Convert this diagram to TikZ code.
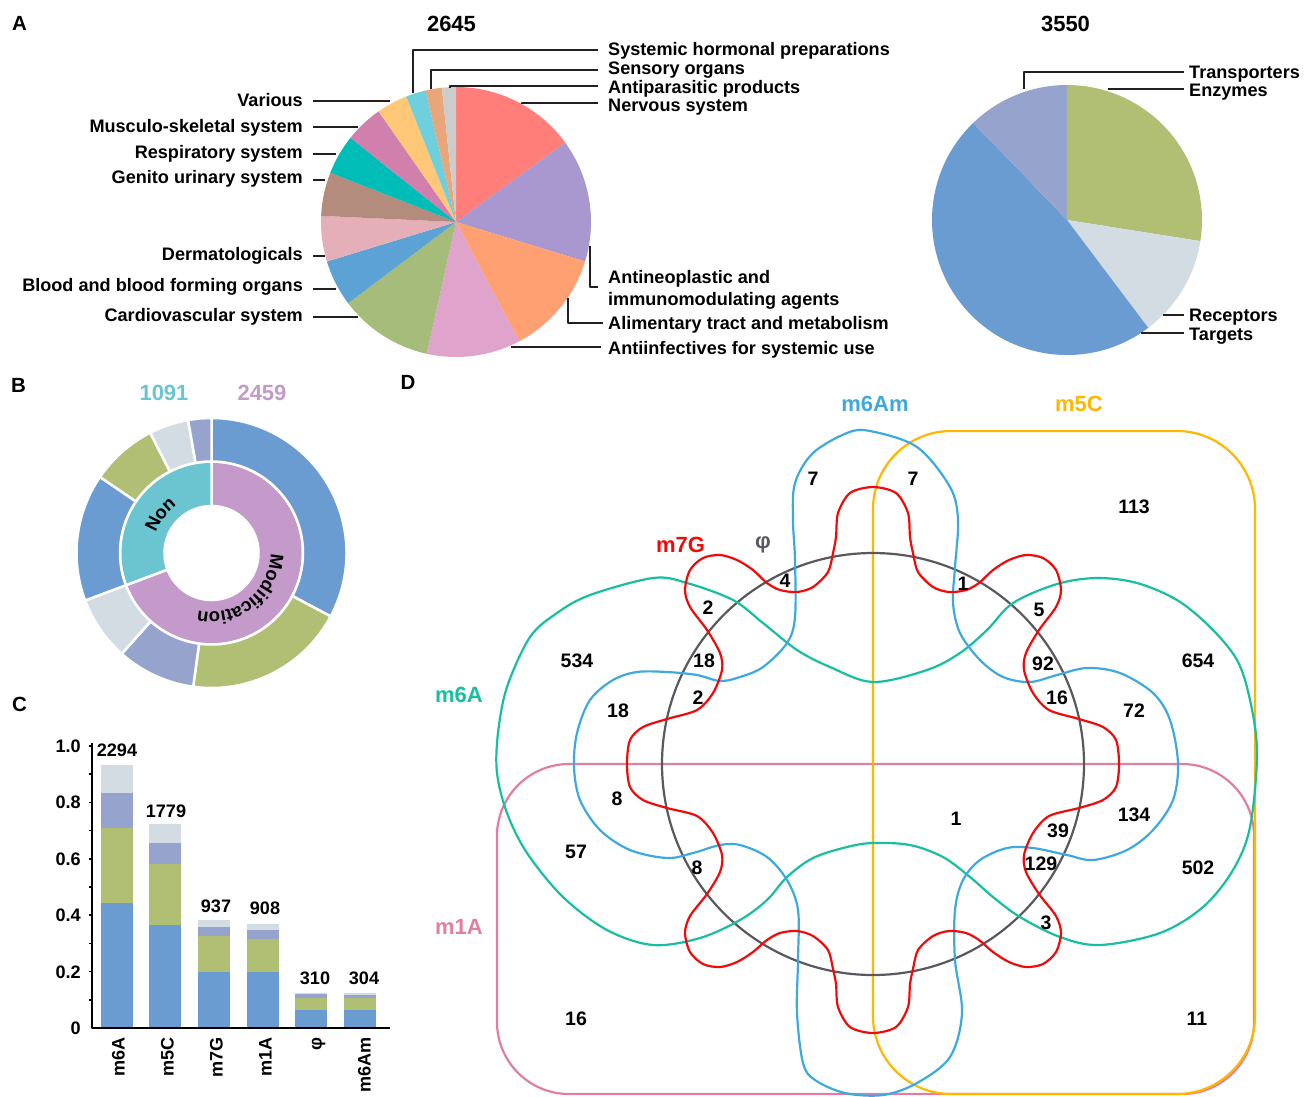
\documentclass[tikz,border=0pt]{standalone}
\usepackage{fontspec}
\setmainfont{Liberation Sans}
\usetikzlibrary{decorations.text}

\definecolor{cNerv}{HTML}{FF7E79}
\definecolor{cAnti}{HTML}{A898CF}
\definecolor{cAlim}{HTML}{FFA072}
\definecolor{cInf}{HTML}{E0A3CC}
\definecolor{cCard}{HTML}{A6BC7B}
\definecolor{cBlood}{HTML}{5DA2D5}
\definecolor{cDerm}{HTML}{E5AFBA}
\definecolor{cGen}{HTML}{B38C7D}
\definecolor{cResp}{HTML}{00BDB8}
\definecolor{cMus}{HTML}{D17FAC}
\definecolor{cVar}{HTML}{FFC778}
\definecolor{cSys}{HTML}{6FCFDC}
\definecolor{cSen}{HTML}{EAA67B}
\definecolor{cApar}{HTML}{CCCCCC}
\definecolor{cTar}{HTML}{6A9BD1}
\definecolor{cEnz}{HTML}{B1BF74}
\definecolor{cTra}{HTML}{96A4CD}
\definecolor{cRec}{HTML}{D2DCE2}
\definecolor{cNon}{HTML}{6BC5D0}
\definecolor{cMod}{HTML}{C39ACA}
\definecolor{cPhi}{HTML}{58585F}
\definecolor{cA}{HTML}{17BF9F}
\definecolor{cAm}{HTML}{3EA9DF}
\definecolor{cC}{HTML}{FFB700}
\definecolor{cG}{HTML}{F20A0A}
\definecolor{cOneA}{HTML}{E07FA0}
\definecolor{cLead}{HTML}{231F20}

\newcommand{\donutfont}{\fontsize{18.5}{18.5}\selectfont\bfseries}

\begin{document}
\begin{tikzpicture}[x=1pt,y=-1pt,line join=round,
  lbl/.style={font=\fontsize{18.1}{20}\selectfont\bfseries,inner sep=0pt,text height=13pt,text depth=0pt},
  num/.style={font=\fontsize{19.5}{21}\selectfont\bfseries,inner sep=0pt,text height=14pt,text depth=0pt},
  big/.style={font=\fontsize{22}{24}\selectfont\bfseries,inner sep=0pt,text height=15.8pt,text depth=0pt},
  panel/.style={font=\fontsize{20.5}{22}\selectfont\bfseries,inner sep=0pt,text height=14.7pt,text depth=0pt},
  lead/.style={draw=cLead,line width=2pt},
  venn/.style={line width=2.2pt},
  ring/.style={draw=white,line width=2.5pt}]
\useasboundingbox (0,0) rectangle (1305,1096);

% panel letters
\node[panel] (pA) at (19.5,23) {A};
\node[panel] (pB) at (18.5,385) {B};
\node[panel] (pC) at (19.5,704) {C};
\node[panel] (pD) at (408,382) {D};

%%% A: ATC classes
\node[big] (tA) at (451.5,23.5) {2645};
\begin{scope}[shift={(456,222)}]
  \foreach \a/\b/\c in {-90/-36/cNerv, -36/17/cAnti, 17/62/cAlim, 62/102.5/cInf,
      102.5/143/cCard, 143/163/cBlood, 163/182.6/cDerm, 182.6/201.4/cGen,
      201.4/218.6/cResp, 218.6/235/cMus, 235/248.4/cVar, 248.4/257/cSys,
      257/264/cSen, 264/270/cApar}
    \fill[\c] (0,0) -- (\a:135) arc[start angle=\a, end angle=\b, radius=135] -- cycle;
\end{scope}

% labels on the left
\foreach \n/\t/\ty/\ly/\ex in {Var/Various/100/101/390, Mus/Musculo-skeletal system/126/127/358,
    Resp/Respiratory system/152/154/336, Gen/Genito urinary system/177/180/325,
    Derm/Dermatologicals/254/256/325, Blood/Blood and blood forming organs/285/289/336,
    Card/Cardiovascular system/315/317/358} {
  \node[lbl,anchor=east] (l\n) at (303,\ty) {\t};
  \coordinate (e\n) at (\ex,\ly);
  \draw[lead] (e\n) -- ([xshift=10pt]e\n -| l\n.east);
}

% labels on the right
\node[lbl,anchor=west] (lSys) at (608,49) {Systemic hormonal preparations};
\node[lbl,anchor=west] (lSen) at (608,68) {Sensory organs};
\node[lbl,anchor=west] (lApar) at (608,87) {Antiparasitic products};
\node[lbl,anchor=west] (lNerv) at (608,105) {Nervous system};
\node[lbl,anchor=west] (lAnti1) at (608,277) {Antineoplastic and};
\node[lbl,anchor=west] (lAnti2) at (608,299) {immunomodulating agents};
\node[lbl,anchor=west] (lAlim) at (608,323) {Alimentary tract and metabolism};
\node[lbl,anchor=west] (lInf) at (608,348) {Antiinfectives for systemic use};
\coordinate (eSys) at (413,93);
\coordinate (eSen) at (431,89);
\coordinate (eApar) at (450,88);
\coordinate (eNerv) at (522,104);
\coordinate (eAnti) at (590,246);
\coordinate (eAlim) at (568,298);
\coordinate (eInf) at (511,347);
\draw[lead] (eSys) |- ([xshift=-10pt,yshift=-1pt]lSys.west);
\draw[lead] (eSen) |- ([xshift=-10pt,yshift=-2pt]lSen.west);
\draw[lead] (eApar) |- ([xshift=-10pt,yshift=1pt]lApar.west);
\draw[lead] (eNerv) |- ([xshift=-10pt,yshift=2pt]lNerv.west);
\draw[lead] (eAnti) |- ([xshift=-10pt,yshift=-10pt]lAnti1.west);
\draw[lead] (eAlim) |- ([xshift=-5pt]lAlim.west);
\draw[lead] (eInf) |- ([xshift=-7pt,yshift=1pt]lInf.west);

%%% A: target classes
\node[big] (tB) at (1065.5,23.5) {3550};
\begin{scope}[shift={(1067,220)}]
  \foreach \a/\b/\c in {-90/9/cEnz, 9/53/cRec, 53/226/cTar, 226/270/cTra}
    \fill[\c] (0,0) -- (\a:135) arc[start angle=\a, end angle=\b, radius=135] -- cycle;
\end{scope}
\node[lbl,anchor=west] (lTra) at (1189,72) {Transporters};
\node[lbl,anchor=west] (lEnz) at (1189,90) {Enzymes};
\node[lbl,anchor=west] (lRec) at (1189,315) {Receptors};
\node[lbl,anchor=west] (lTar) at (1189,334) {Targets};
\coordinate (eTra) at (1024,89);
\coordinate (eEnz) at (1108,89);
\coordinate (eRec) at (1163,315);
\coordinate (eTar) at (1141,333);
\draw[lead] (eTra) |- ([xshift=-5pt]lTra.west);
\draw[lead] (eEnz) -- ([xshift=-5pt]eEnz -| lEnz.west);
\draw[lead] (eRec) -- ([xshift=-5pt]lRec.west);
\draw[lead] (eTar) -- ([xshift=-5pt]eTar -| lTar.west);

%%% B: donut
\node[big,text=cNon] (nNon) at (164,393) {1091};
\node[big,text=cMod] (nMod) at (262,393) {2459};
\begin{scope}[shift={(211.5,553)}]
  \foreach \a/\b/\c in {-90/159.4/cMod, 159.4/270/cNon}
    \draw[ring,fill=\c] (\a:47) arc[start angle=\a, end angle=\b, radius=47]
      -- (\b:91.5) arc[start angle=\b, end angle=\a, radius=91.5] -- cycle;
  \foreach \a/\b/\c in {-90/28/cTar, 28/97.8/cEnz, 97.8/131.7/cTra, 131.7/159.4/cRec,
      159.4/214.3/cTar, 214.3/243/cEnz, 243/260/cRec, 260/270/cTra}
    \draw[ring,fill=\c] (\a:91.5) arc[start angle=\a, end angle=\b, radius=91.5]
      -- (\b:135) arc[start angle=\b, end angle=\a, radius=135] -- cycle;
  \path[decorate,decoration={text along path,text align=center,raise=-2pt,text={|\donutfont|Non}}]
    (177:61) arc[start angle=177, end angle=257, radius=61];
  \path[decorate,decoration={text along path,text align=center,raise=-2pt,text={|\donutfont|Modification}}]
    (-30:61) arc[start angle=-30, end angle=134, radius=61];
\end{scope}

%%% C: stacked bars
\foreach \x/\a/\b/\c/\d in {101/0.444/0.710/0.834/0.933, 149/0.364/0.580/0.657/0.722,
    198/0.200/0.326/0.358/0.382, 247/0.200/0.315/0.347/0.368,
    295/0.063/0.105/0.122/0.125, 344/0.063/0.105/0.118/0.124} {
  \fill[cTar] (\x,1027) rectangle ({\x+32},{1028-282*\a});
  \fill[cEnz] (\x,{1028-282*\a}) rectangle ({\x+32},{1028-282*\b});
  \fill[cTra] (\x,{1028-282*\b}) rectangle ({\x+32},{1028-282*\c});
  \fill[cRec] (\x,{1028-282*\c}) rectangle ({\x+32},{1028-282*\d});
}
\draw[line width=2pt] (92,743) -- (92,1028) -- (390,1028);
\foreach \v in {0.1,0.2,...,1.0}
  \draw[line width=1.5pt] (92,{1028-282*\v}) -- ++(-3,0);
\foreach \v [count=\i] in {0,0.2,0.4,0.6,0.8,1.0}
  \node[lbl,anchor=east] (t\i) at (81,{1028-282*\v}) {\v};
\foreach \x/\y/\t [count=\i] in {117/750/2294, 166/811/1779, 216/906/937, 265/908/908, 315/978/310, 364/978/304}
  \node[lbl] (b\i) at (\x,\y) {\t};
\foreach \x/\t [count=\i] in {118/m6A, 167/m5C, 216/m7G, 265/m1A, 315/φ, 364/m6Am}
  \node[lbl,rotate=90,anchor=east] (x\i) at (\x,1037) {\t};

%%% D: Venn diagram
\draw[venn,draw=cOneA,rounded corners=72pt] (497,900) -- (497,764) -- (1254,764) -- (1254,1094) -- (497,1094) -- cycle;
\draw[venn,draw=cC,rounded corners=78pt] (873,700) -- (873,431) -- (1255,431) -- (1255,1094) -- (873,1094) -- cycle;
\draw[venn,draw=cPhi] (873,764) circle[radius=211];
% m6A
\draw[venn,draw=cA] plot[smooth cycle,tension=0.55] coordinates {
  (653,578) (687,583) (733,600) (763,623) (797,650) (830,667) (873,682) (927,670)
  (960,653) (987,630) (1013,603) (1057,584) (1097,578) (1137,583) (1177,600)
  (1210,627) (1237,660) (1250,700) (1257,753) (1250,827) (1233,870) (1203,907)
  (1160,933) (1100,945) (1060,937) (1020,917) (993,897) (970,877) (943,857)
  (910,845) (873,843) (847,847) (813,858) (787,877) (767,900) (740,920) (700,938)
  (653,945) (607,930) (563,897) (527,853) (507,813) (497,773) (498,733) (507,687)
  (530,637) (557,613) (590,595)};
% m6Am
\draw[venn,draw=cAm] plot[smooth cycle,tension=0.55] coordinates {
  (870,431) (917,447) (950,487) (958,520) (955,567) (953,603) (960,633) (980,660)
  (1003,677) (1030,682) (1057,675) (1087,668) (1120,673) (1153,693) (1170,720)
  (1178,763) (1173,800) (1153,830) (1127,850) (1093,860) (1067,855) (1033,848)
  (1007,848) (980,860) (963,880) (955,910) (955,960) (962,1013) (950,1057)
  (917,1083) (883,1095) (845,1093) (815,1080) (803,1063) (797,1013) (798,960)
  (798,910) (787,880) (767,857) (740,845) (720,845) (693,853) (667,858) (630,850)
  (600,830) (580,800) (574,767) (577,733) (590,700) (613,680) (637,672) (667,672)
  (697,675) (720,681) (740,677) (763,667) (787,643) (795,617) (795,560) (793,520)
  (795,483) (813,453) (847,433)};
% m7G
\draw[venn,draw=cG] plot[smooth cycle,tension=0.5] coordinates {
  (873,487) (850,493) (838,513) (836,537) (833,553) (828,572) (813,587) (797,592)
  (780,590) (767,583) (753,570) (737,560) (720,555) (703,558) (690,570) (685,590)
  (690,607) (707,630) (720,653) (722,670) (713,693) (697,710) (667,719) (643,727)
  (630,740) (627,764)
  (630,787) (643,800) (667,808) (697,816) (713,833) (722,855) (720,872) (707,894)
  (690,916) (685,933) (690,952) (703,964) (720,967) (737,962) (753,952) (767,940)
  (780,933) (797,931) (813,936) (828,950) (833,969) (836,984) (838,1007) (850,1027)
  (873,1033)
  (896,1027) (908,1007) (910,984) (913,969) (918,950) (933,936) (949,931) (966,933)
  (979,940) (993,952) (1009,962) (1026,967) (1043,964) (1056,952) (1061,933)
  (1056,916) (1039,894) (1026,872) (1024,855) (1033,833) (1049,816) (1079,808)
  (1103,800) (1116,787) (1119,764)
  (1116,740) (1103,727) (1079,719) (1049,710) (1033,693) (1024,670) (1026,653)
  (1039,630) (1056,607) (1061,590) (1056,570) (1043,558) (1026,555) (1009,560)
  (993,570) (979,583) (966,590) (949,592) (933,587) (918,572) (913,553) (910,537)
  (908,513) (896,493)};

\node[big,text=cAm] (sAm) at (875,404) {m6Am};
\node[big,text=cC] (sC) at (1079,404) {m5C};
\node[big,text=cG] (sG) at (680.5,545) {m7G};
\node[big,text=cPhi] (sPhi) at (763,541) {φ};
\node[big,text=cA] (sA) at (459,695) {m6A};
\node[big,text=cOneA] (sOneA) at (459,927) {m1A};

\foreach \x/\y/\t [count=\i] in {813/478/7, 913/478/7, 1134/506/113, 785/580/4, 963/583/1,
    708/607/2, 1039/609/5, 577/660/534, 704/660/18, 1043/663/92, 1198/660/654,
    698/697/2, 1057/697/16, 618/710/18, 1134/710/72, 617/798/8, 956/818/1,
    1134/814/134, 1058/830/39, 576/851/57, 697/867/8, 1041/863/129, 1198/867/502,
    1046/922/3, 576/1018/16, 1197/1018/11}
  \node[num] (v\i) at (\x,\y) {\t};

\end{tikzpicture}
\end{document}
